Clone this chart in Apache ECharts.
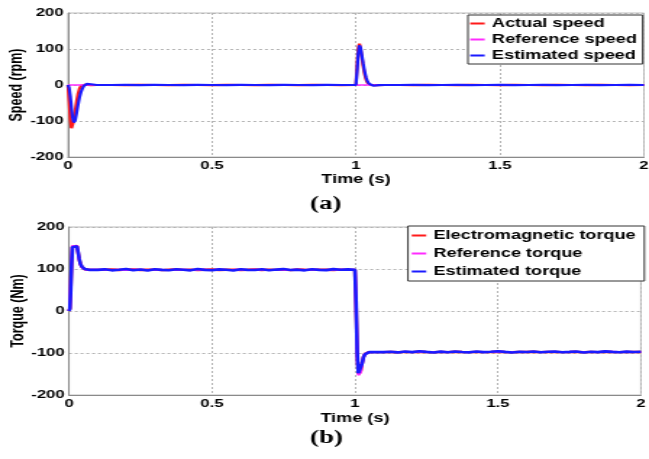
<!DOCTYPE html>
<html>
<head>
<meta charset="utf-8">
<script src="https://cdn.jsdelivr.net/npm/echarts@6/dist/echarts.min.js"></script>
<style>
  html, body { margin: 0; padding: 0; background: #fff; overflow: hidden; }
  /* the figure uses a wide, horizontally stretched lettering; the canvas is drawn
     narrower and stretched back to full width */
  #chart { width: 448px; height: 459px; transform: scaleX(1.44866); transform-origin: 0 0; }
</style>
</head>
<body>
<div id="chart"></div>
<script>
// ---------- (a) speed response ----------
const speedTime = [
  0, 0.004, 0.008, 0.012, 0.016, 0.02, 0.025, 0.03, 0.035, 0.04, 0.045, 0.05, 0.055, 0.06, 0.065, 0.07, 0.08, 0.09, 0.1,
  0.15, 0.2, 0.25, 0.3, 0.35, 0.4, 0.45, 0.5, 0.55, 0.6, 0.65, 0.7, 0.75, 0.8, 0.85, 0.9, 0.95,
  1.0, 1.004, 1.008, 1.012, 1.016, 1.02, 1.025, 1.03, 1.035, 1.04, 1.045, 1.05, 1.055, 1.06, 1.07, 1.08, 1.1,
  1.15, 1.2, 1.25, 1.3, 1.35, 1.4, 1.45, 1.5, 1.55, 1.6, 1.65, 1.7, 1.75, 1.8, 1.85, 1.9, 1.95, 2.0
];
const actualSpeed = [
  0, -45, -95, -120, -118, -100, -72, -45, -24, -10, -3, 0, 1, 1, 0.5, 0, -0.5, 0, 0,
  0, -0.5, 0.3, 0, -0.4, 0.2, 0, -0.3, 0.4, 0, -0.2, 0.3, 0, -0.5, 0.2, 0, -0.3,
  0, 55, 102, 115, 100, 78, 52, 30, 15, 6, 2, 0, -1, -1, -0.5, 0, 0,
  0, -0.3, 0.2, 0, -0.4, 0.3, 0, -0.2, 0.4, 0, -0.3, 0.2, 0, -0.4, 0.3, 0, -0.2, 0
];
const estimatedSpeed = [
  0, -8, -30, -62, -90, -104, -98, -78, -55, -35, -20, -10, -3, 1, 3, 3.5, 2, 0.5, 0,
  0, 0.4, -0.3, 0.2, 0, -0.4, 0.3, 0, -0.2, 0.4, 0, -0.3, 0.2, 0, -0.4, 0.3, 0,
  0, 40, 88, 110, 104, 85, 60, 38, 21, 10, 4, 0.5, -1.5, -2, -1.5, -0.5, 0,
  0, 0.3, -0.2, 0, 0.4, -0.3, 0, 0.2, -0.4, 0, 0.3, -0.2, 0, 0.4, -0.3, 0, 0.2, 0
];
const referenceSpeedTime = [0, 2];
const referenceSpeed = [0, 0];

// ---------- (b) torque response ----------
const torqueTime = [
  0, 0.003, 0.006, 0.009, 0.012, 0.02, 0.028, 0.032, 0.036, 0.04, 0.045, 0.05, 0.055, 0.06, 0.07, 0.08, 0.1,
  0.125, 0.15, 0.175, 0.2, 0.225, 0.25, 0.275, 0.3, 0.325, 0.35, 0.375, 0.4, 0.425, 0.45, 0.475, 0.5, 0.525, 0.55,
  0.575, 0.6, 0.625, 0.65, 0.675, 0.7, 0.725, 0.75, 0.775, 0.8, 0.825, 0.85, 0.875, 0.9, 0.925, 0.95, 0.975,
  1.0, 1.004, 1.008, 1.012, 1.016, 1.02, 1.025, 1.03, 1.035, 1.04, 1.045, 1.05, 1.06, 1.07, 1.08, 1.1,
  1.125, 1.15, 1.175, 1.2, 1.225, 1.25, 1.275, 1.3, 1.325, 1.35, 1.375, 1.4, 1.425, 1.45, 1.475, 1.5, 1.525, 1.55,
  1.575, 1.6, 1.625, 1.65, 1.675, 1.7, 1.725, 1.75, 1.775, 1.8, 1.825, 1.85, 1.875, 1.9, 1.925, 1.95, 1.975, 2.0
];
const electromagneticTorque = [
  0, 6, 55, 115, 153, 156, 155, 139, 123, 112, 105, 101, 99.5, 98.5, 98.2, 98.6, 97.9,
  98.2, 98.8, 97.6, 98.4, 98.9, 97.5, 98.1, 98.6, 97.3, 98.3, 98.7, 97.8, 98.5, 97.4, 98.2, 98.9, 97.7, 98.3,
  98.6, 97.5, 98.1, 98.8, 97.6, 98.4, 97.9, 98.5, 97.3, 98.7, 98.1, 97.8, 98.6, 98.2, 97.5, 98.4, 98.0,
  98, 15, -105, -150, -153, -144, -124, -109, -102, -99.5, -98.2, -97.8, -97.6, -97.9, -97.5, -97.8,
  -97.5, -98.1, -97.3, -97.8, -96.9, -97.6, -98.2, -97.4, -97.9, -97.1, -97.7, -98.0, -97.3, -97.8, -97.5, -96.9, -97.6, -98.2,
  -97.4, -97.7, -97.1, -98.0, -97.5, -97.3, -97.9, -97.6, -97.2, -98.1, -97.4, -97.8, -97.0, -97.6, -98.0, -97.3, -97.7, -97.5
];
const referenceTorque = [
  0, 8, 62, 122, 155, 155, 155, 137, 121, 111, 104, 100.5, 99, 98.3, 98, 98.2, 98,
  98.1, 97.9, 98.3, 97.8, 98.2, 98.0, 97.7, 98.4, 98.1, 97.9, 98.2, 98.0, 97.8, 98.3, 98.1, 97.9, 98.2, 97.8,
  98.0, 98.3, 97.9, 98.1, 98.2, 97.8, 98.0, 98.4, 97.9, 98.1, 97.7, 98.2, 98.0, 97.9, 98.3, 98.1, 98.0,
  98, 10, -110, -153, -155, -146, -126, -110, -103, -100, -98.5, -98, -97.7, -97.8, -97.6, -97.7,
  -97.6, -97.8, -97.5, -97.7, -97.4, -97.8, -97.6, -97.5, -97.9, -97.6, -97.4, -97.7, -97.8, -97.5, -97.6, -97.3, -97.7, -97.9,
  -97.5, -97.6, -97.4, -97.8, -97.6, -97.5, -97.7, -97.9, -97.4, -97.6, -97.8, -97.5, -97.6, -97.3, -97.7, -97.8, -97.5, -97.6
];
const estimatedTorque = [
  0, 5, 50, 110, 152, 155, 154, 140, 124, 113, 106, 102, 100, 98.5, 98, 98.5, 98,
  99.2, 96.8, 98.1, 100.0, 97.0, 98.9, 96.5, 99.6, 98.0, 97.1, 99.3, 98.4, 96.8, 99.8, 98.0, 97.2, 99.1, 98.3,
  96.6, 99.5, 98.0, 97.5, 99.2, 96.9, 98.6, 99.8, 97.7, 98.4, 96.8, 99.3, 98.0, 97.3, 99.7, 98.3, 99.0,
  98, 20, -100, -148, -152, -145, -125, -110, -103, -100, -98.5, -98, -97.5, -98, -97.6, -98,
  -97.0, -98.6, -96.5, -97.9, -95.9, -97.4, -98.8, -96.8, -98.1, -96.3, -97.6, -98.4, -96.6, -97.9, -97.2, -95.9, -97.4, -98.8,
  -96.9, -97.6, -96.3, -98.4, -97.2, -96.6, -98.1, -97.4, -96.5, -98.6, -96.9, -97.9, -96.1, -97.4, -98.4, -96.7, -97.6, -97.2
];

// ---------- axes ----------
const timeTicks = { min: 0, max: 2, interval: 0.5 };
const valueTicks = { min: -200, max: 200, interval: 100 };

const RED = '#ff1a1a';
const MAGENTA = '#ff2bff';
const BLUE = '#1a1aff';
const SANS = '"Liberation Sans", Arial, sans-serif';

const pairs = (xs, ys) => xs.map((x, i) => [x, ys[i]]);

const splitStyle = { show: true, lineStyle: { color: '#b4b4b4', type: [2, 2], width: 1 } };
const axisLineStyle = { show: true, onZero: false, lineStyle: { color: '#8a8a8a', width: 1 } };
const tickText = { color: '#000', fontFamily: SANS, fontWeight: 'bold', fontSize: 11.5 };
const nameText = { color: '#000', fontFamily: SANS, fontWeight: 'bold', fontSize: 12.5 };

function xAxisFor(gridIndex, nameGap) {
  return {
    type: 'value', gridIndex, ...timeTicks,
    name: 'Time (s)', nameLocation: 'middle', nameGap, nameTextStyle: nameText,
    axisLine: axisLineStyle, axisTick: { show: false },
    axisLabel: { ...tickText, margin: 3 },
    splitLine: splitStyle
  };
}
function yAxisFor(gridIndex, name, nameGap) {
  return {
    type: 'value', gridIndex, ...valueTicks,
    name, nameLocation: 'middle', nameGap, nameRotate: 90, nameTextStyle: nameText,
    nameMoveOverlap: false,
    axisLine: axisLineStyle, axisTick: { show: false },
    axisLabel: { ...tickText, margin: 3 },
    splitLine: splitStyle
  };
}
function line(name, data, color, width, axisIndex, z) {
  return {
    name, type: 'line', data, xAxisIndex: axisIndex, yAxisIndex: axisIndex,
    showSymbol: false, symbol: 'none', smooth: false, z,
    lineStyle: { color, width }, itemStyle: { color }
  };
}
const legendBase = {
  orient: 'vertical', icon: 'rect', itemWidth: 10, itemHeight: 2,
  borderColor: '#333', borderWidth: 1, backgroundColor: '#fff',
  textStyle: { color: '#000', fontFamily: SANS, fontWeight: 'bold', fontSize: 12.5 },
  selectedMode: false
};

const chart = echarts.init(document.getElementById('chart'), null, { renderer: 'canvas' });
chart.setOption({
  animation: false,
  backgroundColor: '#fff',
  grid: [
    { left: 46.9, top: 13, width: 397.6, height: 144, show: true, borderColor: '#bdbdbd', borderWidth: 1,
      containLabel: false, outerBoundsMode: 'none' },
    { left: 47.6, top: 227, width: 394.8, height: 168, show: true, borderColor: '#bdbdbd', borderWidth: 1,
      containLabel: false, outerBoundsMode: 'none' }
  ],
  xAxis: [xAxisFor(0, 16), xAxisFor(1, 17)],
  yAxis: [yAxisFor(0, 'Speed (rpm)', 28.5), yAxisFor(1, 'Torque (Nm)', 29)],
  legend: [
    { ...legendBase, data: ['Actual speed', 'Reference speed', 'Estimated speed'],
      left: 323, top: 15, itemGap: 3, padding: [2, 4, 2, 1.6] },
    { ...legendBase, data: ['Electromagnetic torque', 'Reference torque', 'Estimated torque'],
      left: 281.6, top: 226, itemGap: 5, padding: [3, 6, 3, 2.6] }
  ],
  graphic: [
    { type: 'text', left: 214, top: 195,
      style: { text: '(a)', fill: '#000', font: 'bold 18.5px "Liberation Serif", "Times New Roman", serif' } },
    { type: 'text', left: 214, top: 429,
      style: { text: '(b)', fill: '#000', font: 'bold 18.5px "Liberation Serif", "Times New Roman", serif' } }
  ],
  series: [
    line('Actual speed', pairs(speedTime, actualSpeed), RED, 2.2, 0, 2),
    line('Reference speed', pairs(referenceSpeedTime, referenceSpeed), MAGENTA, 1.6, 0, 3),
    line('Estimated speed', pairs(speedTime, estimatedSpeed), BLUE, 2.2, 0, 4),
    line('Electromagnetic torque', pairs(torqueTime, electromagneticTorque), RED, 2.4, 1, 2),
    line('Reference torque', pairs(torqueTime, referenceTorque), MAGENTA, 2, 1, 3),
    line('Estimated torque', pairs(torqueTime, estimatedTorque), BLUE, 2.6, 1, 4)
  ]
});
</script>
</body>
</html>
